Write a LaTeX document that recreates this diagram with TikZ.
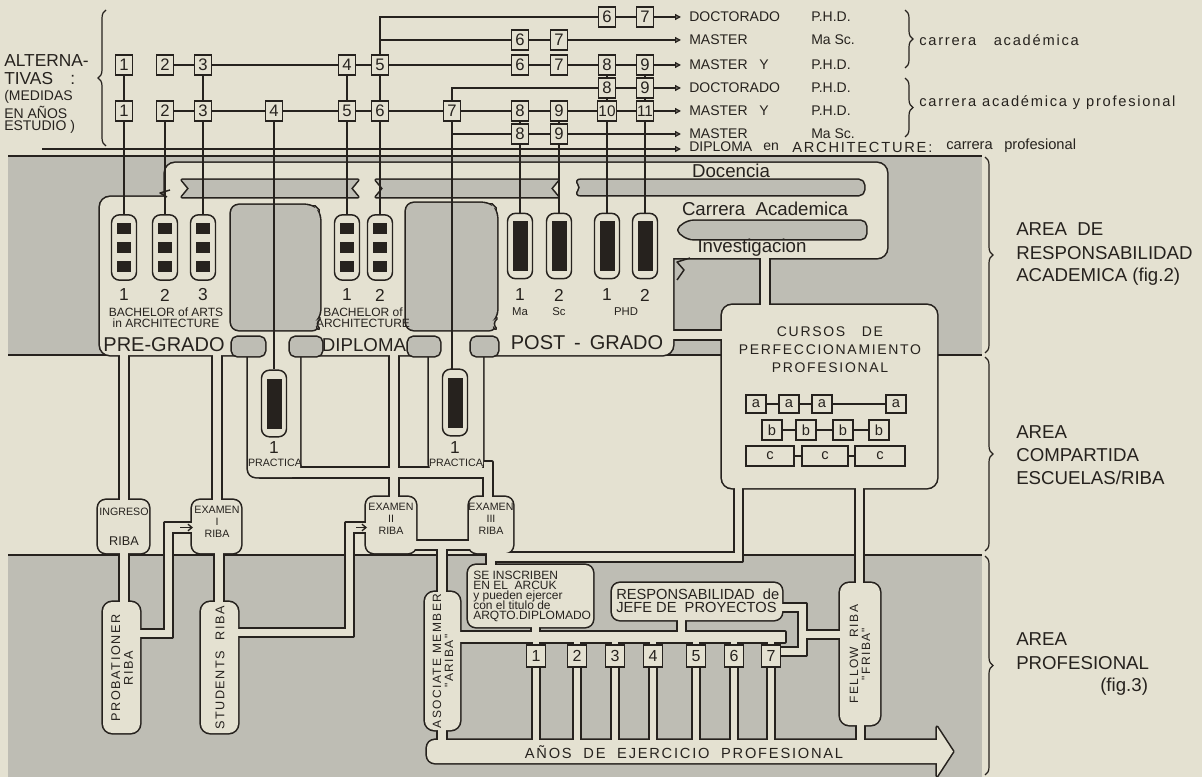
\documentclass[tikz,border=0pt]{standalone}
\usepackage{fontspec}
\setmainfont{Liberation Sans}
\newfontfamily\spaced[LetterSpace=12]{Liberation Sans}
\usetikzlibrary{arrows.meta,decorations.pathreplacing}
\definecolor{paper}{RGB}{228,225,209}
\definecolor{greyc}{RGB}{190,189,180}
\definecolor{ink}{RGB}{38,34,30}
\newcommand\fsz[1]{\fontsize{#1}{#1}\selectfont}
\newcommand\lightshapes[1]{%
\path[#1,rounded corners=7.5pt] (165,163) rectangle (887,258);
\path[#1,rounded corners=7.5pt] (100,197) rectangle (673,355);
\path[#1] (761,250) rectangle (769,310);
\path[#1] (665,331) rectangle (730,339);
\path[#1,rounded corners=7.5pt] (722,305) rectangle (937,488);
\path[#1] (120,345) rectangle (128,505);
\path[#1,rounded corners=6pt] (98,500) rectangle (149,553);
\path[#1] (213,345) rectangle (221,505);
\path[#1,rounded corners=6pt] (192,500) rectangle (241,553);
\path[#1,rounded corners=6pt] (248,345) rectangle (300,477);
\path[#1] (260,468) rectangle (492,477);
\path[#1] (390,350) rectangle (398,500);
\path[#1,rounded corners=6pt] (429,345) rectangle (483,472);
\path[#1] (484,462) rectangle (492,500);
\path[#1,rounded corners=6pt] (366,497) rectangle (416,553);
\path[#1,rounded corners=6pt] (469,497) rectangle (513,553);
\path[#1] (410,541) rectangle (475,549);
\path[#1] (120,545) rectangle (128,606);
\path[#1,rounded corners=7pt] (103,602) rectangle (140,733);
\path[#1] (135,630) rectangle (172,637);
\path[#1] (165,523) rectangle (172,637);
\path[#1] (165,523) rectangle (194,532);
\path[#1] (215,545) rectangle (223,606);
\path[#1,rounded corners=7pt] (201,602) rectangle (238,733);
\path[#1] (233,629) rectangle (353,636);
\path[#1] (346,523) rectangle (353,636);
\path[#1] (346,523) rectangle (368,532);
\path[#1] (438,545) rectangle (446,596);
\path[#1,rounded corners=7pt] (425,592) rectangle (460,730);
\path[#1] (438,725) rectangle (446,745);
\path[#1] (487,545) rectangle (495,570);
\path[#1] (487,553) rectangle (742,561);
\path[#1] (735,480) rectangle (742,561);
\path[#1,rounded corners=6pt] (468,565) rectangle (593,627);
\path[#1] (532,620) rectangle (539,640);
\path[#1] (455,632) rectangle (785,642);
\foreach \xx in {536,577,615,653,696,734,771} {\path[#1] (\xx-3,640) rectangle (\xx+3,745);}
\path[#1,rounded corners=6pt] (612,583) rectangle (782,620);
\path[#1] (678,615) rectangle (685,636);
\path[#1] (778,604) rectangle (806,611);
\path[#1] (799,604) rectangle (806,655);
\path[#1] (775,648) rectangle (806,655);
\path[#1] (803,631) rectangle (845,638);
\path[#1] (856,480) rectangle (863,590);
\path[#1,rounded corners=7pt] (840,583) rectangle (880,725);
\path[#1] (857,720) rectangle (864,745);
\path[#1,rounded corners=6pt] (427,740) rectangle (945,763);
\path[#1] (937,727) -- (953,751.5) -- (937,776) -- cycle;
}
\newcommand\holeshapes[1]{%
\path[#1] (182,180) -- (358,180) -- (351,188.5) -- (358,197) -- (182,197) -- (189,188.5) -- cycle;
\path[#1] (376,180) -- (558,180) -- (551,188.5) -- (558,197) -- (376,197) -- (383,188.5) -- cycle;
\path[#1,rounded corners=4pt] (575,180) -- (864,180) -- (864,195) -- (575,195) -- (582,187.5) -- cycle;
\path[#1,rounded corners=4pt] (688,221) -- (866,221) -- (866,239) -- (688,239) -- (676,230) -- cycle;
\path[#1,rounded corners=6pt] (231,205) -- (313,205) -- (320,212) -- (320,318) -- (313,323) -- (320,330) -- (231,330) -- cycle;
\path[#1,rounded corners=6pt] (406,203) -- (490,203) -- (497,210) -- (497,318) -- (490,323) -- (497,330) -- (406,330) -- cycle;
\path[#1,rounded corners=4pt] (232,356) -- (232,337) -- (265,337) -- (265,356) -- cycle;
\path[#1,rounded corners=4pt] (290,356) -- (290,337) -- (322,337) -- (322,356) -- cycle;
\path[#1,rounded corners=4pt] (408,356) -- (408,337) -- (440,337) -- (440,356) -- cycle;
\path[#1,rounded corners=4pt] (471,356) -- (471,337) -- (498,337) -- (498,356) -- cycle;
}
\newcommand\blocks[2]{\foreach \dy in {-19,0,19} {\fill[ink] ({#1-7},{#2+\dy-5.5}) rectangle ({#1+7},{#2+\dy+5.5});}}
\newcommand\longblk[2]{\fill[ink] ({#1-7.5},{#2-25}) rectangle ({#1+7.5},{#2+25});}
\begin{document}
\begin{tikzpicture}[x=0.75pt,y=-0.75pt,
  conn/.style={draw=ink,line width=1pt},
  arr/.style={conn,-{Triangle[open,length=4.5pt,width=4.5pt]}},
  numbox/.style={draw=ink,line width=1pt,fill=paper,minimum width=12.75pt,minimum height=15pt,inner sep=0.5pt,font=\fsz{12.5},text=ink},
  pill/.style={draw=ink,line width=1.1pt,fill=paper,rounded corners=6pt,minimum width=18.75pt,minimum height=49pt,inner sep=0pt},
  pbox/.style={draw=ink,line width=1.2pt,fill=paper,minimum width=14pt,minimum height=16.5pt,inner sep=0.5pt,font=\fsz{12},text=ink},
  cbox/.style={draw=ink,line width=1.6pt,fill=paper,minimum width=15pt,minimum height=13.5pt,inner sep=0pt,font=\fsz{11},text=ink},
  lbl/.style={inner sep=0pt,text=ink,anchor=west},
  ctr/.style={inner sep=0pt,text=ink},
  brc/.style={draw=ink,line width=0.9pt,decorate,decoration={brace,amplitude=6pt}}]
\useasboundingbox (0,0) rectangle (1202,777);
\fill[paper] (0,0) rectangle (1202,777);
% bands
\fill[greyc] (8,156) rectangle (982,355);
\fill[greyc] (8,555) rectangle (982,777);
\draw[conn] (8,156) -- (982,156);
\draw[conn] (8,355) -- (982,355);
\draw[conn] (8,555) -- (982,555);
% light pipe network
\lightshapes{draw=ink,line width=2.4pt,line join=round}
\lightshapes{fill=paper}
\holeshapes{draw=ink,line width=2.4pt,line join=round}
\holeshapes{fill=greyc}
% chevron notches
\draw[ink,line width=1.1pt,line join=round] (690,258) -- (677,262) -- (684,270) -- (677,280);
\draw[ink,line width=1.1pt,line join=round] (170,190) -- (160,193) -- (167,197);
% ---------- top: alternatives ----------
\node[lbl,font=\fsz{13}] at (4,61) {ALTERNA-};
\node[lbl,font=\fsz{13}] at (4,79) {TIVAS\ \ \ \,:};
\node[lbl,font=\fsz{10.5}] at (4,97) {(MEDIDAS};
\node[lbl,font=\fsz{10.5}] at (4,112) {EN AÑOS};
\node[lbl,font=\fsz{10.5}] at (4,127) {ESTUDIO )};
\draw[brc] (106,146) -- (106,10);
% row 3
\node[numbox] (a1) at (124,65) {1};
\node[numbox] (a2) at (165,65) {2};
\node[numbox] (a3) at (203,65) {3};
\node[numbox] (a4) at (347,65) {4};
\node[numbox] (a5) at (380,65) {5};
\node[numbox] (a6) at (520,65) {6};
\node[numbox] (a7) at (559,65) {7};
\node[numbox] (a8) at (607,65) {8};
\node[numbox] (a9) at (645,65) {9};
% row 5
\node[numbox] (b1) at (124,111) {1};
\node[numbox] (b2) at (165,111) {2};
\node[numbox] (b3) at (203,111) {3};
\node[numbox] (b4) at (274,111) {4};
\node[numbox] (b5) at (347,111) {5};
\node[numbox] (b6) at (380,111) {6};
\node[numbox] (b7) at (452,111) {7};
\node[numbox] (b8) at (520,111) {8};
\node[numbox] (b9) at (559,111) {9};
\node[numbox,font=\fsz{11.5}] (b10) at (607,111) {10};
\node[numbox,font=\fsz{11.5}] (b11) at (645,111) {11};
% rows 1,2,4,6
\node[numbox] (r1a) at (607,17) {6};
\node[numbox] (r1b) at (645,17) {7};
\node[numbox] (r2a) at (520,40) {6};
\node[numbox] (r2b) at (559,40) {7};
\node[numbox] (r4a) at (607,88) {8};
\node[numbox] (r4b) at (645,88) {9};
\node[numbox] (r6a) at (520,134) {8};
\node[numbox] (r6b) at (559,134) {9};
\coordinate (e1) at (681,17);
\coordinate (e2) at (681,40);
\coordinate (e3) at (681,65);
\coordinate (e4) at (681,88);
\coordinate (e5) at (681,111);
\coordinate (e6) at (681,134);
\coordinate (e7) at (681,149);
\coordinate (d0) at (42,149);
% row connectors
\draw[conn] (a2) -- (a3) (a3) -- (a4) (a4) -- (a5) (a5) -- (a6) (a6) -- (a7) (a7) -- (a8) (a8) -- (a9);
\draw[arr] (a9) -- (e3);
\draw[conn] (b2) -- (b3) (b3) -- (b4) (b4) -- (b5) (b5) -- (b6) (b6) -- (b7) (b7) -- (b8) (b8) -- (b9) (b9) -- (b10) (b10) -- (b11);
\draw[arr] (b11) -- (e5);
\draw[conn] (a5.north) |- (r1a.west);
\draw[conn] (a5.north) |- (r2a.west);
\draw[conn] (r1a) -- (r1b) (r2a) -- (r2b) (r4a) -- (r4b) (r6a) -- (r6b);
\draw[arr] (r1b) -- (e1);
\draw[arr] (r2b) -- (e2);
\draw[arr] (r4b) -- (e4);
\draw[arr] (r6b) -- (e6);
\draw[conn] (b7.north) |- (r4a.west);
\draw[conn] (b7.south) |- (r6a.west);
\draw[arr] (d0) -- (e7);
\draw[conn] (a1) -- (b1) (a3) -- (b3) (a4) -- (b5) (a5) -- (b6);
\draw[conn] (a8) -- (r4a) (a9) -- (r4b) (r4a) -- (b10) (r4b) -- (b11);
\draw[conn] (b8) -- (r6a) (b9) -- (r6b);
% right labels of rows
\begin{scope}[font=\fsz{10.5}]
\node[lbl] at (689,17) {DOCTORADO};
\node[lbl] at (689,40) {MASTER};
\node[lbl] at (689,65) {MASTER\ \ \ Y};
\node[lbl] at (689,88) {DOCTORADO};
\node[lbl] at (689,111) {MASTER\ \ \ Y};
\node[lbl] at (689,134) {MASTER};
\node[lbl] at (689,147) {DIPLOMA};
\node[lbl] at (763,147) {en};
\node[lbl,font=\spaced\fsz{11}] at (792,147) {ARCHITECTURE:};
\node[lbl,font=\fsz{11}] at (946,146) {carrera};
\node[lbl,font=\fsz{11}] at (1004,146) {profesional};
\node[lbl] at (811,17) {P.H.D.};
\node[lbl] at (811,40) {Ma Sc.};
\node[lbl] at (811,65) {P.H.D.};
\node[lbl] at (811,88) {P.H.D.};
\node[lbl] at (811,111) {P.H.D.};
\node[lbl] at (811,134) {Ma Sc.};
\end{scope}
\draw[brc] (905,10) -- (905,68);
\draw[brc] (905,78) -- (905,137);
\node[lbl,font=\spaced\fsz{11}] at (919,40) {carrera\ \ \ académica};
\node[lbl,font=\spaced\fsz{11}] at (919,103) {carrera\ académica\ y\ profesional};
% ---------- academic band ----------
\node[pill] (pg1) at (124,247.5) {};
\node[pill] (pg2) at (165,247.5) {};
\node[pill] (pg3) at (203,247.5) {};
\node[pill] (dp1) at (347,247.5) {};
\node[pill] (dp2) at (380,247.5) {};
\node[pill] (ma) at (520,246) {};
\node[pill] (sc) at (559,246) {};
\node[pill] (ph1) at (607,246) {};
\node[pill] (ph2) at (645,246) {};
\node[pill,minimum height=50pt] (pr1) at (274,403.5) {};
\node[pill,minimum height=50pt] (pr2) at (455,402.5) {};
\blocks{124}{247.5}\blocks{165}{247.5}\blocks{203}{247.5}
\blocks{347}{247.5}\blocks{380}{247.5}
\longblk{520}{246}\longblk{559}{246}\longblk{607}{246}\longblk{645}{246}
\longblk{274}{403.5}\longblk{455}{402.5}
\draw[conn] (b1) -- (pg1) (b2) -- (pg2) (b3) -- (pg3) (b5) -- (dp1) (b6) -- (dp2);
\draw[conn] (b4) -- (pr1);
\draw[conn] (b7.south) -- (452,370);
\draw[conn] (r6a) -- (ma) (r6b) -- (sc) (b10) -- (ph1) (b11) -- (ph2);
\begin{scope}[font=\fsz{13}]
\node[ctr] at (124,295) {1};
\node[ctr] at (165,295) {2};
\node[ctr] at (203,295) {3};
\node[ctr] at (347,295) {1};
\node[ctr] at (380,295) {2};
\node[ctr] at (520,295) {1};
\node[ctr] at (559,295) {2};
\node[ctr] at (607,295) {1};
\node[ctr] at (645,295) {2};
\node[ctr] at (274,448) {1};
\node[ctr] at (455,448) {1};
\end{scope}
\node[ctr,font=\fsz{9},align=center] at (166,318) {BACHELOR of ARTS\\[-1pt]in ARCHITECTURE};
\node[ctr,font=\fsz{9},align=center] at (363,318) {BACHELOR of\\[-1pt]ARCHITECTURE};
\node[ctr,font=\fsz{8.5}] at (520,312) {Ma};
\node[ctr,font=\fsz{8.5}] at (559,312) {Sc};
\node[ctr,font=\fsz{8.5}] at (626,312) {PHD};
\node[ctr,font=\fsz{15}] at (164,345) {PRE-GRADO};
\node[ctr,font=\fsz{14}] at (364,345) {DIPLOMA};
\node[ctr,font=\fsz{15}] at (587,343) {POST\ \,-\ \,GRADO};
\node[ctr,font=\fsz{8}] at (275,463) {PRACTICA};
\node[ctr,font=\fsz{8}] at (456,463) {PRACTICA};
\node[ctr,font=\fsz{14}] at (731,171) {Docencia};
\node[ctr,font=\fsz{14}] at (765,209) {Carrera\ \ Academica};
\node[ctr,font=\fsz{14}] at (752,248) {Investigacion};
% cursos
\node[ctr,font=\spaced\fsz{10.5},align=center] at (830,350) {CURSOS\ \ \ DE\\[3pt]PERFECCIONAMIENTO\\[3pt]PROFESIONAL};
\node[cbox] (ca1) at (756,404) {a};
\node[cbox] (ca2) at (789,404) {a};
\node[cbox] (ca3) at (822,404) {a};
\node[cbox] (ca4) at (896,404) {a};
\node[cbox,minimum height=15pt] (cb1) at (772,430) {b};
\node[cbox,minimum height=15pt] (cb2) at (806,430) {b};
\node[cbox,minimum height=15pt] (cb3) at (843,430) {b};
\node[cbox,minimum height=15pt] (cb4) at (879,430) {b};
\node[cbox,minimum width=36pt,minimum height=15pt] (cc1) at (770,456) {c};
\node[cbox,minimum width=34pt,minimum height=15pt] (cc2) at (825,456) {c};
\node[cbox,minimum width=38pt,minimum height=15pt] (cc3) at (880,456) {c};
\draw[conn] (ca1) -- (ca2) (ca2) -- (ca3) (ca3) -- (ca4);
\draw[conn] (cb1) -- (cb2) (cb2) -- (cb3) (cb3) -- (cb4);
\draw[conn] (cc1) -- (cc2) (cc2) -- (cc3);
% middle band boxes text
\node[ctr,font=\fsz{8}] at (124,512) {INGRESO};
\node[ctr,font=\fsz{9.5}] at (124,541) {RIBA};
\node[ctr,font=\fsz{8},align=center] at (217,522) {EXAMEN\\[1pt]I\\[1pt]RIBA};
\node[ctr,font=\fsz{8},align=center] at (391,519) {EXAMEN\\[1pt]II\\[1pt]RIBA};
\node[ctr,font=\fsz{8},align=center] at (491,519) {EXAMEN\\[1pt]III\\[1pt]RIBA};
% entry arrows
\draw[conn,-{Straight Barb[length=3pt,width=5pt]}] (180,527.5) -- (193,527.5);
\draw[conn,-{Straight Barb[length=3pt,width=5pt]}] (356,527.5) -- (367,527.5);
% ---------- professional band ----------
\node[ctr,rotate=90,font=\spaced\fsz{9.5},align=center] at (122,668) {PROBATIONER\\RIBA};
\node[ctr,rotate=90,font=\spaced\fsz{9.5}] at (220,668) {STUDENTS\ \ RIBA};
\node[ctr,rotate=90,font=\spaced\fsz{9},align=center] at (443,661) {ASOCIATE MEMBER\\"ARIBA"};
\node[ctr,rotate=90,font=\spaced\fsz{9},align=center] at (860,654) {FELLOW\ \ RIBA\\"FRIBA"};
\node[lbl,font=\fsz{9},align=left] at (473,596) {SE INSCRIBEN\\[-1.5pt]EN EL\ \ ARCUK\\[-1.5pt]y pueden ejercer\\[-1.5pt]con el titulo de\\[-1.5pt]ARQTO.DIPLOMADO};
\node[lbl,font=\fsz{11},align=left] at (616,601) {RESPONSABILIDAD\ \ de\\[-1pt]JEFE DE\ \ PROYECTOS};
\node[pbox] (p1) at (536,656) {1};
\node[pbox] (p2) at (577,656) {2};
\node[pbox] (p3) at (615,656) {3};
\node[pbox] (p4) at (653,656) {4};
\node[pbox] (p5) at (696,656) {5};
\node[pbox] (p6) at (734,656) {6};
\node[pbox] (p7) at (771,656) {7};
\node[ctr,font=\spaced\fsz{11}] at (684,752) {AÑOS\ \ DE\ \ EJERCICIO\ \ PROFESIONAL};
% ---------- right braces & area labels ----------
\draw[brc] (985,157) -- (985,353);
\draw[brc] (985,357) -- (985,551);
\draw[brc] (985,556) -- (985,775);
\begin{scope}[font=\fsz{14}]
\node[lbl] at (1016,229) {AREA\ \ DE};
\node[lbl] at (1016,253) {RESPONSABILIDAD};
\node[lbl] at (1016,277) {ACADEMICA (fig.2)};
\node[lbl] at (1016,432) {AREA};
\node[lbl] at (1016,455) {COMPARTIDA};
\node[lbl] at (1016,478) {ESCUELAS/RIBA};
\node[lbl] at (1016,639) {AREA};
\node[lbl] at (1016,663) {PROFESIONAL};
\node[lbl] at (1100,687) {(fig.3)};
\end{scope}
\end{tikzpicture}
\end{document}
